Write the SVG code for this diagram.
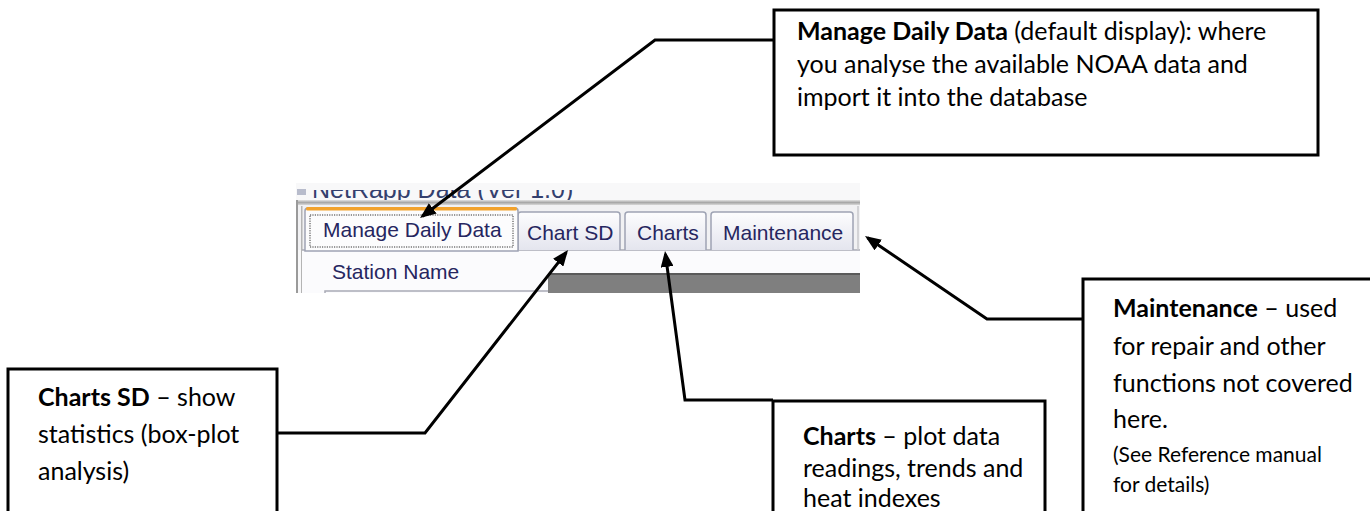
<svg xmlns="http://www.w3.org/2000/svg" width="1370" height="511" viewBox="0 0 1370 511">
  <style>
    .box { fill: #ffffff; stroke: #000000; stroke-width: 3; }
    .note { font-family: Lato, "Open Sans", sans-serif; font-size: 25px; fill: #000000; }
    .note .b { font-weight: bold; }
    .small { font-size: 21px; }
    .link { fill: none; stroke: #000000; stroke-width: 3; marker-end: url(#arrow); }
    .ui { font-family: "Liberation Sans", Arial, sans-serif; font-size: 21px; fill: #262660; }
    .tab { fill: url(#tabGrad); stroke: #9ea3b4; stroke-width: 1.5; }
  </style>
  <defs>
    <marker id="arrow" markerUnits="userSpaceOnUse" markerWidth="17" markerHeight="13" refX="13" refY="6.5" orient="auto">
      <path d="M0,0 L16,6.5 L0,13 z" fill="#000000"/>
    </marker>
    <linearGradient id="tabGrad" x1="0" y1="0" x2="0" y2="1">
      <stop offset="0" stop-color="#fdfdfe"/>
      <stop offset="1" stop-color="#e4e5ee"/>
    </linearGradient>
    <linearGradient id="sepGrad" x1="0" y1="0" x2="0" y2="1">
      <stop offset="0" stop-color="#e2e2e2"/>
      <stop offset="0.5" stop-color="#a8a8a8"/>
      <stop offset="1" stop-color="#d8d8d8"/>
    </linearGradient>
    <clipPath id="shotClip">
      <rect x="296" y="183" width="564" height="110"/>
    </clipPath>
    <!-- only the lower part of the title bar is in view -->
    <clipPath id="titleClip">
      <rect x="296" y="190" width="564" height="10"/>
    </clipPath>
  </defs>

  <rect x="0" y="0" width="1370" height="511" fill="#ffffff"/>

  <!-- application window excerpt: tab strip -->
  <g id="app-window" clip-path="url(#shotClip)">
    <rect x="296" y="183" width="564" height="110" fill="#f8f8f9"/>
    <!-- title bar (cut off) -->
    <rect x="297" y="189" width="9" height="6" fill="#b8bccc"/>
    <text class="ui" x="312" y="198" clip-path="url(#titleClip)" style="font-size:25px;fill:#34406e">NetRapp Data (Ver 1.0)</text>
    <rect x="296" y="200" width="564" height="5" fill="url(#sepGrad)"/>
    <rect x="296" y="205" width="564" height="45" fill="#f1f1f3"/>
    <!-- window frame left -->
    <rect x="296" y="200" width="2" height="93" fill="#9a9a9a"/>
    <rect x="301" y="206" width="1.5" height="87" fill="#b4b4b4"/>
    <!-- panel below tabs -->
    <rect x="302" y="250" width="558" height="43" fill="#fbfbfd"/>
    <line x1="302" y1="250" x2="860" y2="250" stroke="#a9aab5" stroke-width="1.5"/>
    <!-- inactive tabs -->
    <path class="tab" d="M518,250 V215 Q518,212 521,212 H617 Q620,212 620,215 V250"/>
    <path class="tab" d="M625,250 V215 Q625,212 628,212 H703 Q706,212 706,215 V250"/>
    <path class="tab" d="M711,250 V215 Q711,212 714,212 H850 Q853,212 853,215 V250"/>
    <line x1="858" y1="206" x2="858" y2="250" stroke="#c8c8cc" stroke-width="1.5"/>
    <!-- active tab -->
    <path d="M305,251 V211 Q305,208 308,208 H515 Q518,208 518,211 V251 Z" fill="#fcfcfd" stroke="#9ea3b4" stroke-width="1.5"/>
    <rect x="306" y="207" width="211" height="3.5" rx="1.5" fill="#f2a22c"/>
    <rect x="310" y="215" width="203" height="32" fill="none" stroke="#333333" stroke-width="1" stroke-dasharray="1.2,1.2"/>
    <text class="ui" x="323" y="237">Manage Daily Data</text>
    <text class="ui" x="527" y="240">Chart SD</text>
    <text class="ui" x="637" y="240">Charts</text>
    <text class="ui" x="723" y="240">Maintenance</text>
    <!-- form content -->
    <text class="ui" x="332" y="279">Station Name</text>
    <rect x="548" y="273" width="312" height="20" fill="#7f7f7f"/>
    <rect x="548" y="273" width="312" height="2" fill="#5a5a5a"/>
    <path d="M325,293 V291 H548" fill="none" stroke="#a9aab5" stroke-width="1.5"/>
  </g>

  <!-- connectors -->
  <g id="connectors">
    <polyline class="link" points="774,40 655,40 422.4,216.2"/>
    <polyline class="link" points="277,433 425,433 566.2,252.4"/>
    <polyline class="link" points="773,400 685,400 665.4,254"/>
    <polyline class="link" points="1083,319 987,319 867.5,237.7"/>
  </g>

  <g id="note-manage-daily-data">
    <rect class="box" x="774" y="10" width="544" height="145"/>
    <text class="note" x="797" y="40"><tspan class="b">Manage Daily Data</tspan> (default display): where</text>
    <text class="note" x="797" y="73">you analyse the available NOAA data and</text>
    <text class="note" x="797" y="106">import it into the database</text>
  </g>

  <g id="note-charts-sd">
    <rect class="box" x="8" y="369" width="269" height="150"/>
    <text class="note" x="38" y="406"><tspan class="b">Charts SD</tspan> – show</text>
    <text class="note" x="38" y="443">statistics (box-plot</text>
    <text class="note" x="38" y="480">analysis)</text>
  </g>

  <g id="note-charts">
    <rect class="box" x="773" y="401" width="272" height="120"/>
    <text class="note" x="803" y="445"><tspan class="b">Charts</tspan> – plot data</text>
    <text class="note" x="803" y="477">readings, trends and</text>
    <text class="note" x="803" y="507">heat indexes</text>
  </g>

  <g id="note-maintenance">
    <rect class="box" x="1083" y="279" width="300" height="240"/>
    <text class="note" x="1113" y="317"><tspan class="b">Maintenance</tspan> – used</text>
    <text class="note" x="1113" y="355">for repair and other</text>
    <text class="note" x="1113" y="392">functions not covered</text>
    <text class="note" x="1113" y="428">here.</text>
    <text class="note small" x="1113" y="462">(See Reference manual</text>
    <text class="note small" x="1113" y="492">for details)</text>
  </g>
</svg>
